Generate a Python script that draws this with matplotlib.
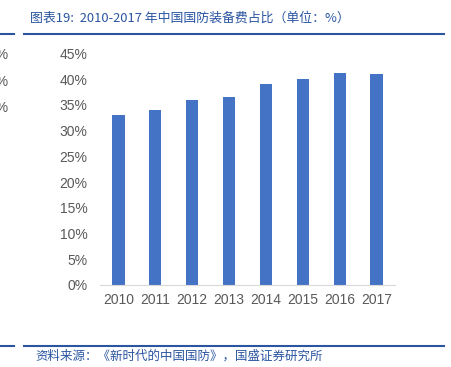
import matplotlib.pyplot as plt
from matplotlib.lines import Line2D

years = ['2010', '2011', '2012', '2013', '2014', '2015', '2016', '2017']
share = [33.1, 34.1, 35.9, 36.5, 39.0, 40.1, 41.2, 41.0]
yticks = [0, 5, 10, 15, 20, 25, 30, 35, 40, 45]

title = '图表19:  2010-2017 年中国国防装备费占比（单位：%）'
source = '资料来源：《新时代的中国国防》，国盛证券研究所'

W, H = 452, 367
blue = '#2A55A0'
cjk = ['Noto Sans CJK SC', 'DejaVu Sans']


def main():
    fig = plt.figure(figsize=(W / 100, H / 100), dpi=100)
    ax = fig.add_axes([100 / W, 1 - 285 / H, 295 / W, (285 - 53.5) / H])

    x = range(len(years))
    ax.bar(x, share, width=0.33, color='#4472C4')
    ax.set_xlim(-0.5, len(years) - 0.5)
    ax.set_ylim(0, 45)
    ax.set_yticks(yticks)
    ax.set_yticklabels([f'{v}%' for v in yticks])
    ax.set_xticks(list(x))
    ax.set_xticklabels(years)
    ax.tick_params(length=0, labelsize=10, labelcolor='#595959')
    for lab in ax.get_xticklabels() + ax.get_yticklabels():
        lab.set_family('Liberation Sans')
    ax.tick_params(axis='y', pad=9)
    ax.tick_params(axis='x', pad=6)
    for s in ['top', 'right', 'left']:
        ax.spines[s].set_visible(False)
    ax.spines['bottom'].set_color('#D9D9D9')

    # clipped labels from the neighbouring chart
    for yy in [55, 82, 108]:
        fig.text(-12 / W, 1 - yy / H, '0%', fontsize=10, color='#595959',
                 family='Liberation Sans', va='center')

    # header / footer rules
    for yy in [33.5, 346]:
        fig.add_artist(Line2D([0, 14 / W], [1 - yy / H] * 2, color=blue, lw=1.5))
        fig.add_artist(Line2D([24 / W, 444 / W], [1 - yy / H] * 2, color=blue, lw=1.5))

    fig.text(30 / W, 1 - 18 / H, title, fontsize=9.3, color=blue, style='italic',
             family=cjk, va='center')
    fig.text(35 / W, 1 - 356 / H, source, fontsize=9, color=blue, style='italic',
             family=cjk, va='center')

    fig.savefig('out.png', dpi=100)


if __name__ == '__main__':
    main()
